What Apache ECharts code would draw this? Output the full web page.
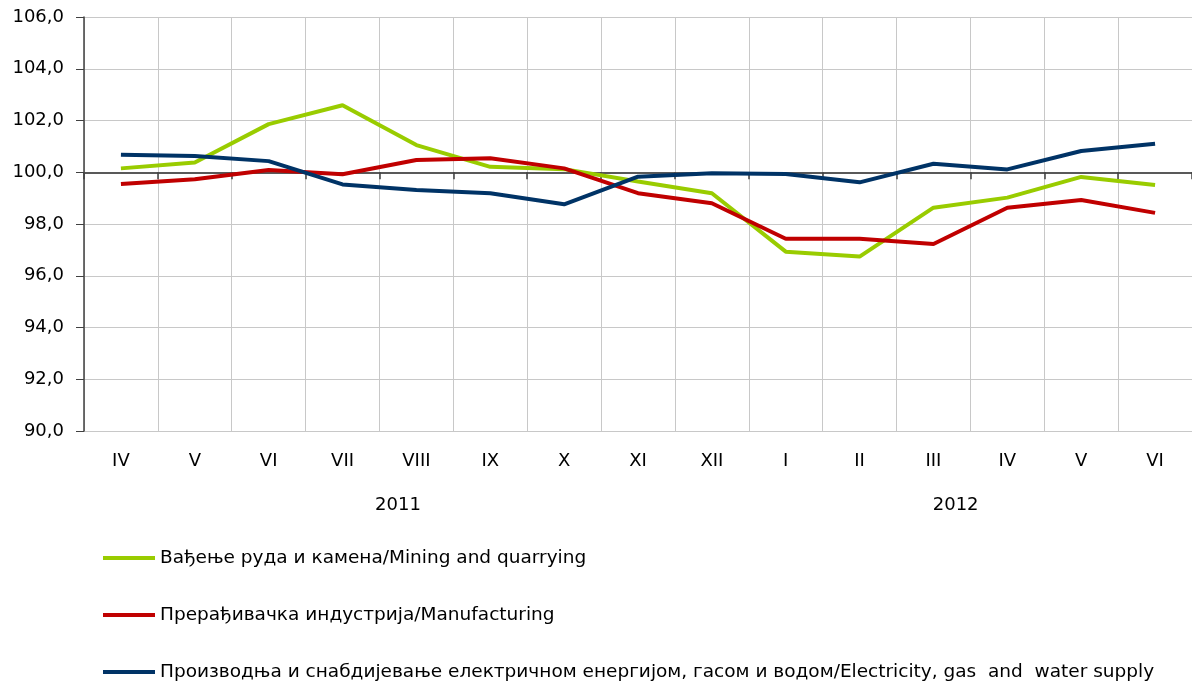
<!DOCTYPE html>
<html>
<head>
<meta charset="utf-8">
<script src="https://cdn.jsdelivr.net/npm/echarts@6/dist/echarts.min.js"></script>
<style>
  html, body { margin: 0; padding: 0; background: #fff; }
  #echart { width: 1192px; height: 690px; }
</style>
</head>
<body>
<div id="echart"></div>
<script>
var months = ['IV', 'V', 'VI', 'VII', 'VIII', 'IX', 'X', 'XI', 'XII', 'I', 'II', 'III', 'IV', 'V', 'VI'];
var years = ['2011', '2012'];
// year label positions, in category units (0 = first month)
var yearPos = [3.75, 11.3];

var mining = [100.15, 100.38, 101.86, 102.59, 101.05, 100.21, 100.12, 99.64, 99.19, 96.93, 96.74, 98.63, 99.02, 99.82, 99.51];
var manuf = [99.55, 99.73, 100.09, 99.92, 100.47, 100.54, 100.15, 99.19, 98.80, 97.43, 97.43, 97.23, 98.63, 98.93, 98.43];
var elec = [100.68, 100.63, 100.43, 99.53, 99.31, 99.19, 98.76, 99.83, 99.96, 99.93, 99.61, 100.33, 100.11, 100.82, 101.1];

var names = [
  'Вађење руда и камена/Mining and quarrying',
  'Прерађивачка индустрија/Manufacturing',
  'Производња и снабдијевање електричном енергијом, гасом и водом/Electricity, gas  and  water supply'
];
var colors = ['#99cc00', '#c00000', '#003366'];
var legendTop = [548, 605, 662];

var font = 'DejaVu Sans';

function line(name, data, color) {
  return {
    name: name,
    type: 'line',
    data: data,
    symbol: 'none',
    color: color,
    lineStyle: { width: 4, color: color },
    z: 5
  };
}

function legend(i) {
  return {
    orient: 'vertical',
    left: 103,
    top: legendTop[i],
    padding: 0,
    itemWidth: 52,
    itemHeight: 4,
    icon: 'rect',
    textStyle: { color: '#000', fontSize: 18.5, lineHeight: 20, fontFamily: font },
    data: [names[i]]
  };
}

var echart = echarts.init(document.getElementById('echart'));
echart.setOption({
  animation: false,
  textStyle: { fontFamily: font },
  grid: { left: 84, top: 17, right: 0, bottom: 259 },
  xAxis: [
    {
      type: 'category',
      data: months,
      boundaryGap: true,
      axisLine: { show: false },
      axisTick: { show: false },
      axisLabel: { color: '#000', fontSize: 18, margin: 21, interval: 0, fontFamily: font },
      splitLine: { show: true, lineStyle: { color: '#c8c8c8', width: 1 } }
    },
    {
      // the 100 line with its ticks
      type: 'category',
      data: months,
      position: 'top',
      offset: -155.25,
      boundaryGap: true,
      axisLine: { show: true, lineStyle: { color: '#595959', width: 2 } },
      axisTick: { show: true, inside: true, length: 7, interval: 0, lineStyle: { color: '#404040', width: 1.5 } },
      axisLabel: { show: false },
      splitLine: { show: false }
    },
    {
      // year labels
      type: 'value',
      min: -0.5,
      max: 14.5,
      position: 'bottom',
      axisLine: { show: false },
      axisTick: { show: false },
      splitLine: { show: false },
      axisLabel: {
        show: true,
        customValues: yearPos,
        color: '#000',
        fontSize: 18,
        margin: 65,
        fontFamily: font,
        formatter: function (v) { return v < 8.5 ? years[0] : years[1]; }
      }
    }
  ],
  yAxis: {
    type: 'value',
    min: 90,
    max: 106,
    interval: 2,
    axisLine: { show: true, onZero: false, lineStyle: { color: '#404040', width: 1.5 } },
    axisTick: { show: true, length: 8, lineStyle: { color: '#404040' } },
    axisLabel: {
      color: '#000',
      fontSize: 18,
      margin: 20,
      fontFamily: font,
      formatter: function (v) { return v.toFixed(1).replace('.', ','); }
    },
    splitLine: { show: true, lineStyle: { color: '#c8c8c8', width: 1 } }
  },
  legend: [legend(0), legend(1), legend(2)],
  series: [
    line(names[0], mining, colors[0]),
    line(names[1], manuf, colors[1]),
    line(names[2], elec, colors[2])
  ]
});
</script>
</body>
</html>
